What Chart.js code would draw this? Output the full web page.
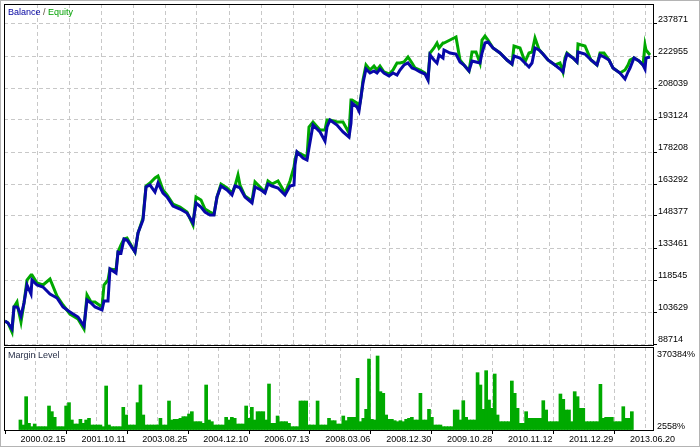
<!DOCTYPE html>
<html>
<head>
<meta charset="utf-8">
<script src="https://cdn.jsdelivr.net/npm/chart.js@4"></script>
<style>
html, body { margin: 0; padding: 0; background: #fff; }
#wrap { position: relative; width: 700px; height: 447px; overflow: hidden; }
#wrap::after { content: ''; position: absolute; left: 0; top: 0; right: 0; bottom: 0;
    border: 1px solid #b4b4b4; pointer-events: none; }
#main { position: absolute; left: 0; top: 0; }
#margin { position: absolute; left: 0; top: 347px; }
</style>
</head>
<body>
<div id="wrap">
<canvas id="main" width="700" height="347"></canvas>
<canvas id="margin" width="700" height="100"></canvas>
</div>
<script>
// date labels under the margin pane, one every 64 deals
const dates = ['2000.02.15', '2001.10.11', '2003.08.25', '2004.12.10', '2006.07.13', '2008.03.06',
    '2008.12.30', '2009.10.28', '2010.11.12', '2011.12.29', '2013.06.20'];
const dateStep = 64;
const gridStep = 32;

const priceTicks = [88714, 103629, 118545, 133461, 148377, 163292, 178208, 193124, 208039, 222955, 237871];
const marginTicks = [2558, 370384];

// deal number of each balance / equity sample
const deals = [0, 3, 7, 9, 12, 13, 16, 19, 22, 26,
    27, 32, 38, 45, 52, 58, 65, 73, 79, 82,
    86, 90, 97, 99, 103, 105, 111, 113, 116, 119,
    122, 130, 133, 138, 141, 145, 150, 153, 158, 162,
    168, 175, 182, 188, 191, 196, 200, 205, 209, 212,
    216, 222, 227, 230, 233, 235, 240, 247, 250, 256,
    260, 263, 267, 273, 280, 285, 289, 290, 292, 298,
    302, 304, 308, 315, 320, 322, 325, 332, 338, 344,
    346, 347, 352, 354, 356, 358, 361, 365, 369, 372,
    375, 379, 384, 388, 392, 395, 399, 403, 407, 410,
    415, 420, 423, 425, 429, 432, 434, 438, 439, 445,
    451, 455, 459, 464, 467, 471, 475, 477, 480, 483,
    488, 495, 502, 507, 509, 515, 520, 524, 527, 530,
    534, 538, 543, 550, 555, 558, 560, 562, 568, 572,
    573, 580, 586, 592, 595, 599, 604, 608, 615, 620,
    623, 625, 629, 634, 638, 640, 641, 645];

const balance = [99434, 98502, 95705, 105959, 105959, 105493, 101764, 107824, 116213, 112019,
    118544, 116213, 115281, 112019, 110154, 105959, 103629, 101298, 97103, 109222,
    107824, 105959, 104561, 108756, 108756, 123671, 121807, 131595, 131129, 137654,
    137188, 131595, 140451, 146510, 161891, 162823, 159561, 163756, 159095, 157230,
    153035, 151637, 149773, 145112, 154434, 152569, 150239, 148840, 148840, 157230,
    162357, 160493, 158162, 162357, 161891, 161425, 157230, 154434, 161891, 160493,
    159095, 163290, 162357, 161425, 158162, 162357, 162823, 172145, 178205, 175408,
    174476, 180069, 190789, 187527, 183332, 189857, 193120, 190789, 187527, 185196,
    191722, 201044, 199179, 197315, 203840, 210366, 216891, 215027, 215959, 215027,
    216891, 215027, 213628, 215027, 214094, 216425, 218755, 219688, 217357, 216891,
    215493, 214561, 211764, 223416, 221086, 219688, 223416, 222018, 225747, 224349,
    223883, 220154, 218755, 215959, 220620, 220154, 219688, 224349, 229010, 229476,
    226679, 224349, 221086, 219222, 222950, 222018, 219688, 217823, 219688, 226679,
    225747, 223883, 221086, 218755, 216891, 215493, 220620, 223883, 222018, 220154,
    224815, 223883, 221086, 218755, 223416, 222484, 221086, 217357, 215027, 212230,
    215493, 217357, 222018, 220620, 218755, 216891, 222018, 222484];

const equity = [99434, 98502, 94307, 105959, 108290, 105493, 98968, 107824, 118544, 120874,
    120874, 117146, 116213, 119010, 111086, 106891, 102697, 100366, 95705, 111552,
    108290, 108290, 105959, 116213, 118544, 123671, 123205, 131595, 134857, 137654,
    138120, 131595, 140451, 147442, 162357, 163756, 166086, 167018, 160493, 158162,
    153968, 152569, 150239, 144179, 157230, 155832, 151637, 150239, 149307, 157230,
    163290, 161425, 159095, 162357, 167484, 162823, 157696, 155366, 164222, 161425,
    159561, 164688, 163290, 164688, 159095, 164688, 171213, 174476, 178205, 176806,
    175874, 189857, 192188, 188459, 188459, 193120, 193120, 192188, 192188, 187061,
    202442, 202442, 201044, 198713, 203840, 211764, 218755, 216425, 218289, 216425,
    218289, 215493, 214561, 216425, 219688, 219688, 220154, 222484, 219688, 217357,
    216425, 215027, 212230, 224349, 226679, 229010, 226679, 229010, 229010, 230408,
    231806, 221086, 218755, 215959, 224815, 224815, 219688, 230408, 232272, 230408,
    226679, 224349, 221086, 219222, 227611, 226679, 220154, 224349, 224815, 231340,
    226000, 223883, 221086, 218755, 219688, 215493, 222018, 224349, 222018, 220154,
    228544, 227611, 221086, 218755, 224349, 224349, 221086, 217357, 215027, 216425,
    218755, 221086, 222018, 220620, 218755, 228077, 225747, 223416];

// margin level in %, one bar every 3 deals
const marginStep = 3;
const marginLevel = [43430, 20700, 149390, 28300, 13150, 25260, 13150, 13150, 13150, 13150,
    107000, 81260, 55540, 13150, 13150, 13150, 107000, 122130, 43430, 25260,
    25260, 46460, 28300, 43430, 50990, 20700, 20700, 20700, 20700, 13150,
    197820, 20700, 13150, 13150, 13150, 13150, 100960, 66130, 20700, 20700,
    20700, 122130, 202360, 66130, 20700, 20700, 20700, 20700, 20700, 50990,
    20700, 20700, 129700, 43430, 46460, 46460, 50990, 58560, 58560, 70670,
    81260, 35850, 35850, 35850, 28300, 202360, 43430, 35850, 20700, 20700,
    20700, 20700, 55540, 43430, 55540, 50990, 25260, 25260, 25260, 107000,
    50990, 100960, 43430, 81260, 81260, 81260, 43430, 206900, 28300, 28300,
    61590, 35850, 35850, 35850, 28300, 13150, 13150, 13150, 129700, 129700,
    129700, 20700, 20700, 20700, 129700, 20700, 20700, 20700, 50990, 40390,
    40390, 25260, 25260, 61590, 40390, 55540, 55540, 55540, 232640, 35850,
    50990, 91860, 320430, 46460, 43430, 334050, 172090, 164520, 66130, 46460,
    46460, 40390, 35850, 40390, 35850, 46460, 50990, 55540, 43430, 43430,
    164520, 43430, 43430, 91860, 55540, 20700, 20700, 20700, 13150, 13150,
    13150, 13150, 88840, 88840, 43430, 131220, 55540, 43430, 43430, 43430,
    258360, 202360, 91860, 267440, 134250, 96420, 252320, 66130, 35850, 35850,
    35850, 35850, 220530, 164520, 96420, 28300, 28300, 81260, 50990, 50990,
    50990, 50990, 50990, 131220, 88840, 35850, 35850, 35850, 35850, 161500,
    137280, 88840, 88840, 35850, 172090, 149390, 96420, 96420, 35850, 35850,
    35850, 35850, 35850, 205390, 50990, 55540, 55540, 55540, 35850, 35850,
    35850, 103960, 50990, 50990, 81260];

Chart.defaults.font.family = 'Liberation Sans';
Chart.defaults.font.size = 9;
Chart.defaults.color = '#000';

const gridColor = '#c8c8c8';
const dash = [4, 3];

function dealTicks(scale)
{
    const ticks = [];
    for (let v = 0; v <= dates.length * dateStep - dateStep; v += gridStep) ticks.push({ value: v });
    scale.ticks = ticks;
}

// keep the plot box where it is, labels may hang over the edges
function noOverflow(scale)
{
    scale.paddingTop = 0;
    scale.paddingBottom = 0;
    scale.paddingLeft = 0;
    scale.paddingRight = 0;
}

function frame(captions)
{
    return {
        id: 'frame',
        afterDraw(chart)
        {
            const a = chart.chartArea;
            const ctx = chart.ctx;
            ctx.save();
            ctx.strokeStyle = '#000';
            ctx.lineWidth = 1;
            ctx.strokeRect(a.left + 0.5, a.top + 0.5, a.right - a.left - 1, a.bottom - a.top - 1);
            ctx.font = '9px "Liberation Sans"';
            ctx.textBaseline = 'middle';
            let x = a.left + 4;
            captions.forEach(c =>
            {
                ctx.fillStyle = c.color;
                ctx.fillText(c.text, x, a.top + 9);
                x += ctx.measureText(c.text).width;
            });
            ctx.restore();
        }
    };
}

const xCommon = {
    type: 'linear',
    min: -1,
    max: 649,
    afterBuildTicks: dealTicks,
    border: { display: false, dash: dash },
    grid: {
        color: c => c.tick && c.tick.value === 0 ? 'rgba(0,0,0,0)' : gridColor,
        borderDash: dash,
        tickBorderDash: []
    }
};

new Chart(document.getElementById('main'), {
    type: 'line',
    data: {
        datasets: [
            {
                label: 'Balance',
                data: balance.map((v, i) => ({ x: deals[i], y: v })),
                borderColor: '#0808a8',
                borderWidth: 3,
                pointRadius: 0,
                tension: 0
            },
            {
                label: 'Equity',
                data: equity.map((v, i) => ({ x: deals[i], y: v })),
                borderColor: '#00a800',
                borderWidth: 3,
                pointRadius: 0,
                tension: 0
            }
        ]
    },
    options: {
        responsive: false,
        animation: false,
        layout: { padding: { left: 4, top: 4, right: 0, bottom: 0 } },
        plugins: { legend: { display: false }, tooltip: { enabled: false } },
        scales: {
            x: Object.assign({}, xCommon, {
                ticks: { display: false },
                grid: Object.assign({}, xCommon.grid, { drawTicks: false }),
                afterFit: s => { s.height = 1; noOverflow(s); }
            }),
            y: {
                position: 'right',
                min: 87782,
                max: 247193,
                afterBuildTicks: s => { s.ticks = priceTicks.map(v => ({ value: v })); },
                afterFit: s => { s.width = 46; noOverflow(s); },
                border: { display: false, dash: dash },
                grid: {
                    color: gridColor,
                    borderDash: dash,
                    tickColor: '#000',
                    tickBorderDash: [],
                    tickLength: 3
                },
                ticks: { padding: 1, labelOffset: -4, callback: v => String(v) }
            }
        }
    },
    plugins: [frame([
        { text: 'Balance', color: '#0000a0' },
        { text: ' / ', color: '#605040' },
        { text: 'Equity', color: '#00a000' }
    ])]
});

new Chart(document.getElementById('margin'), {
    type: 'bar',
    data: {
        datasets: [{
            label: 'Margin Level',
            data: marginLevel.map((v, i) => ({ x: i * marginStep, y: v })),
            backgroundColor: '#00aa00',
            borderWidth: 0,
            barThickness: 3
        }]
    },
    options: {
        responsive: false,
        animation: false,
        layout: { padding: { left: 4, top: 0, right: 0, bottom: 0 } },
        plugins: { legend: { display: false }, tooltip: { enabled: false } },
        scales: {
            x: Object.assign({}, xCommon, {
                grid: Object.assign({}, xCommon.grid, {
                    tickColor: c => c.index % 2 === 0 ? '#000' : 'rgba(0,0,0,0)',
                    tickLength: 3
                }),
                ticks: {
                    autoSkip: false,
                    maxRotation: 0,
                    align: 'start',
                    padding: 0,
                    callback: (v, i) => i % 2 === 0 ? dates[i / 2] : ''
                },
                afterFit: s => { s.height = 16; noOverflow(s); }
            }),
            y: {
                position: 'right',
                min: -6524,
                max: 374920,
                afterBuildTicks: s => { s.ticks = marginTicks.map(v => ({ value: v })); },
                afterFit: s => { s.width = 46; noOverflow(s); },
                border: { display: false },
                grid: { drawOnChartArea: false, drawTicks: false },
                ticks: {
                    padding: 3,
                    labelOffset: -2,
                    font: { size: 9, lineHeight: 1.8 },
                    callback: v => v === marginTicks[1] ? ['', v + '%'] : v + '%'
                }
            }
        }
    },
    plugins: [frame([{ text: 'Margin Level', color: '#283048' }])]
});
</script>
</body>
</html>
